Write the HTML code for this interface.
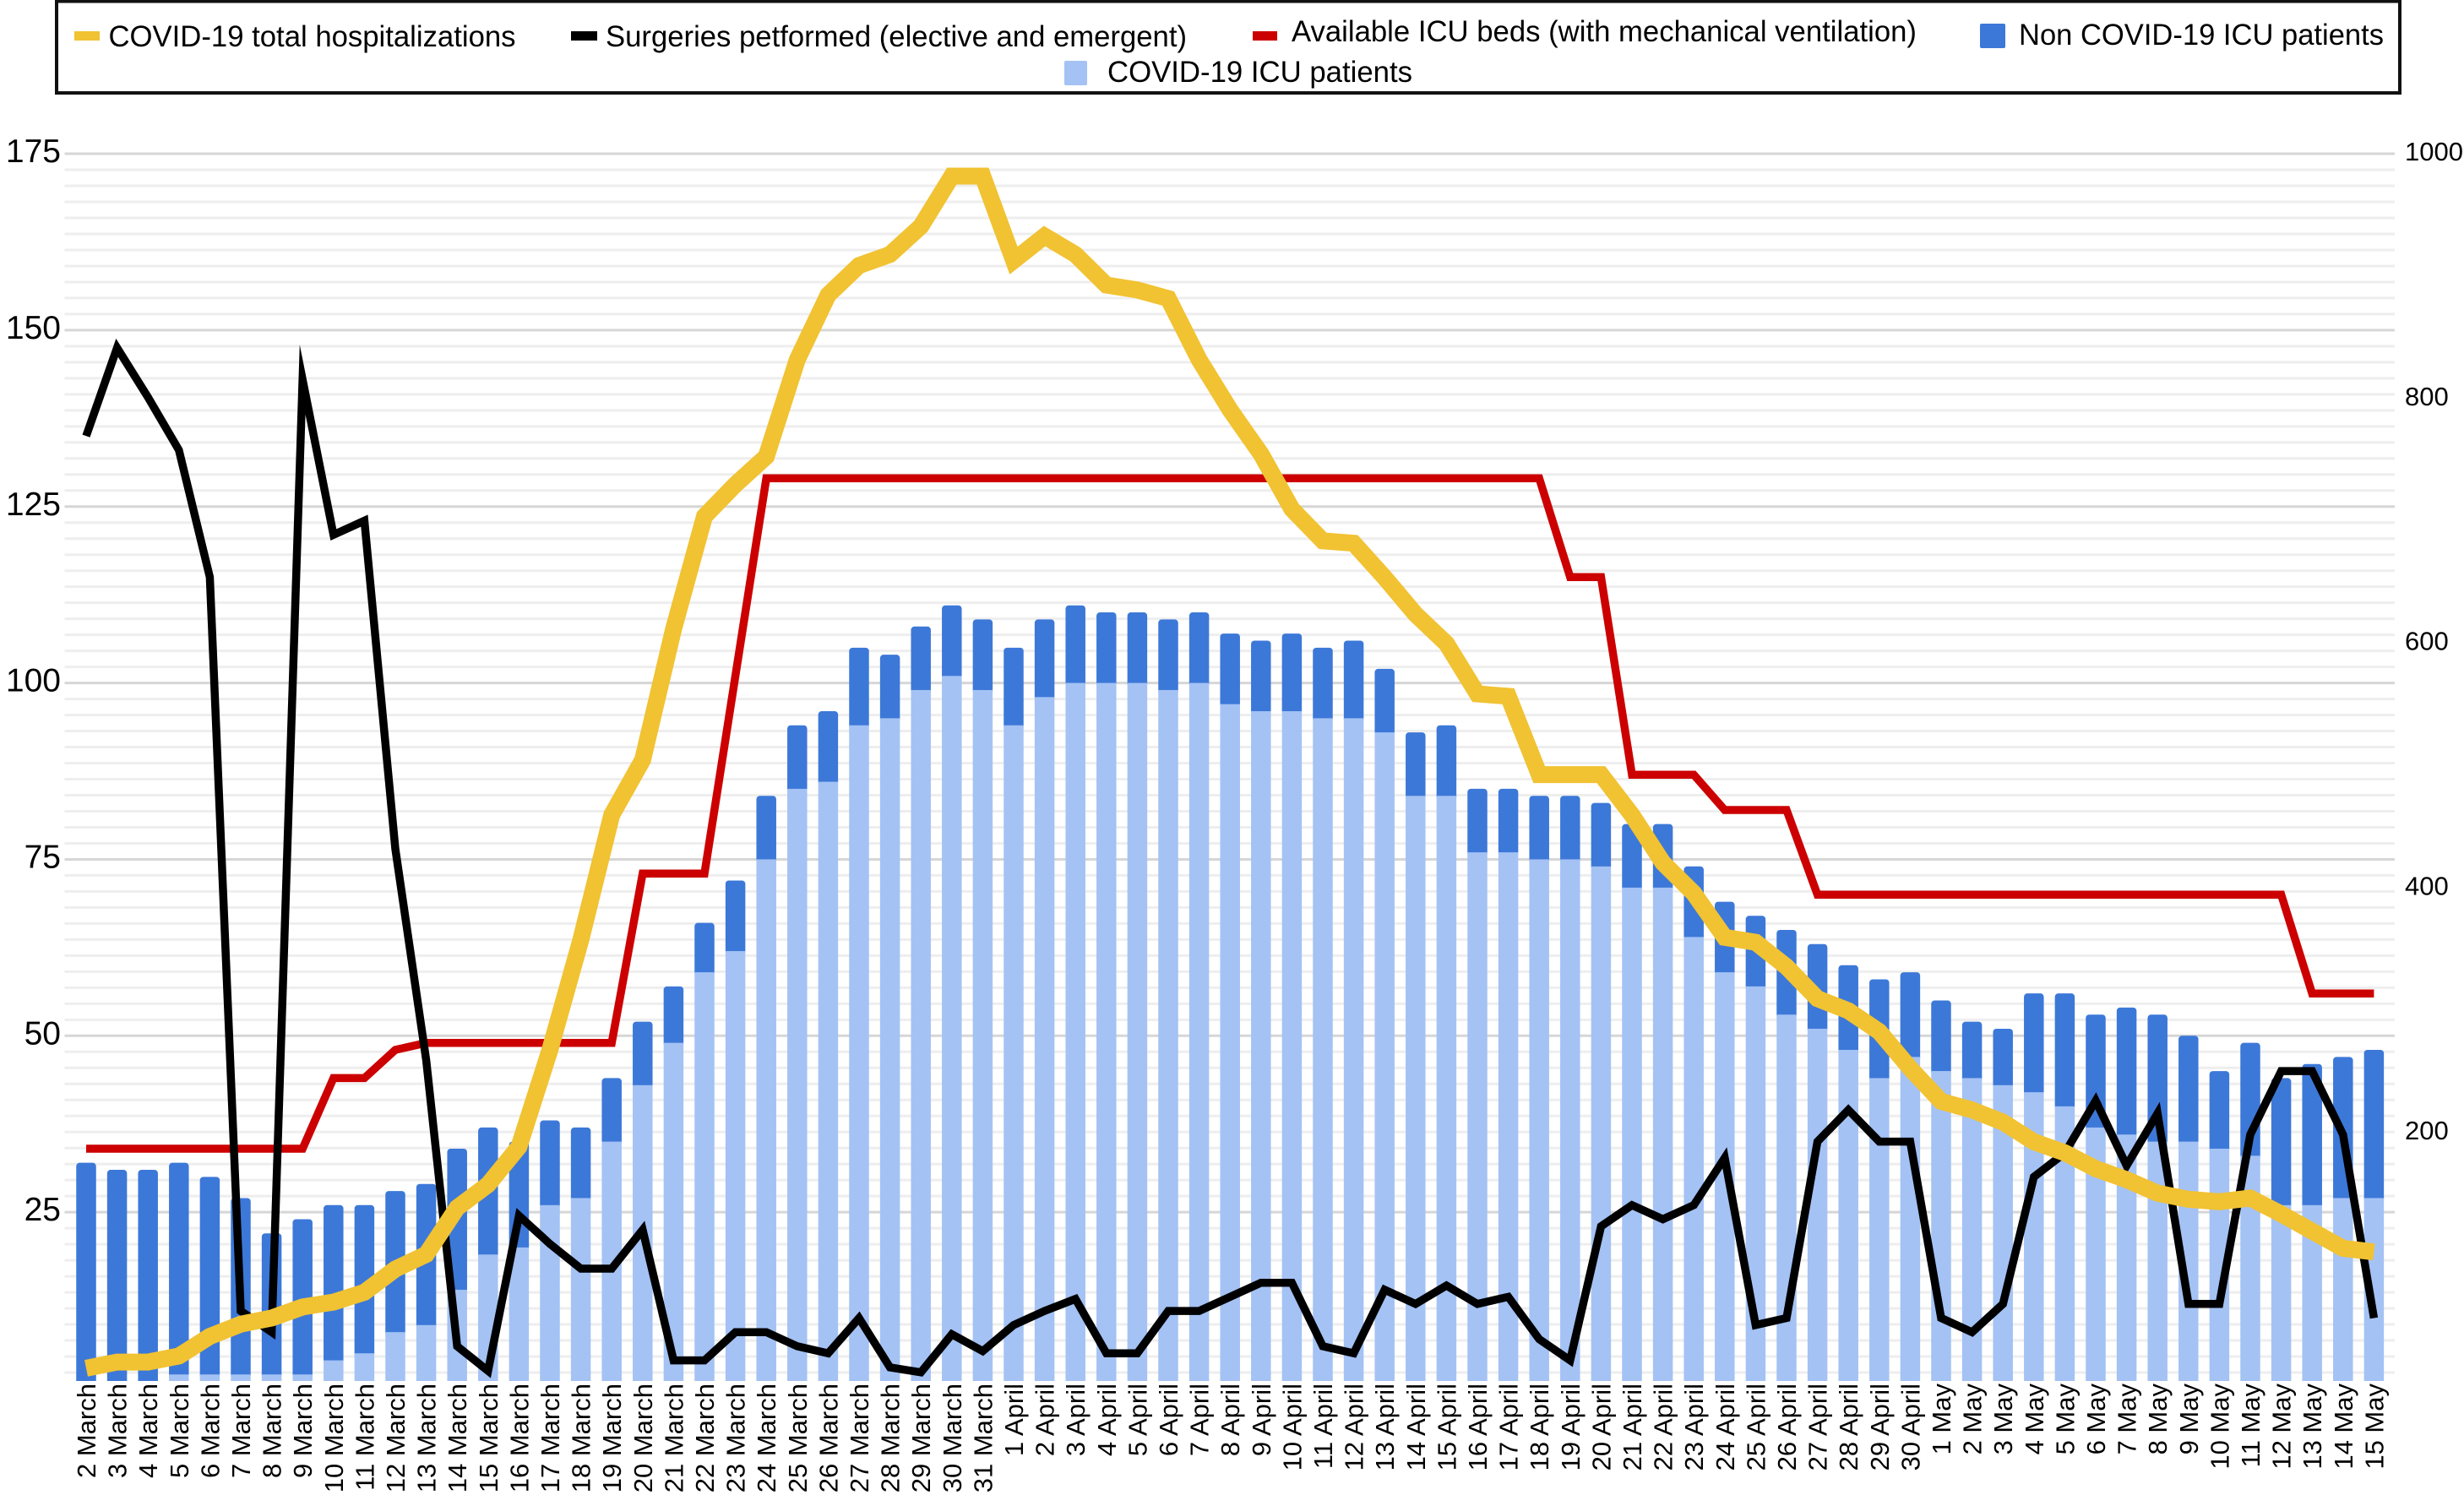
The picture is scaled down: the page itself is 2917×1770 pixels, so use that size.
<!DOCTYPE html>
<html lang="en">
<head>
<meta charset="utf-8">
<title>COVID-19 hospitalizations, ICU patients, ICU beds and surgeries</title>
<style>
  html, body { margin: 0; padding: 0; background: #fff; }
  svg { display: block; font-family: "Liberation Sans", Arial, sans-serif; }
</style>
</head>
<body>
<svg id="chart" xmlns="http://www.w3.org/2000/svg" width="2917" height="1770" viewBox="0 0 2917 1770">
  <rect x="0" y="0" width="2917" height="1770" fill="#ffffff"/>
  <defs>
    <clipPath id="plot-clip"><rect x="60" y="150" width="2800" height="1485"/></clipPath>
  </defs>
  <g id="grid"></g>
  <g id="bars" clip-path="url(#plot-clip)"></g>
  <g id="lines"></g>
  <g id="left-axis"></g>
  <g id="right-axis"></g>
  <g id="x-axis"></g>

  <g>
    <rect x="67" y="1.5" width="2774" height="108.5" fill="#ffffff" stroke="#111111" stroke-width="4"/>
    <g>
      <rect x="88" y="37" width="30" height="11" fill="#f1c232"/>
      <text x="128.5" y="55" font-size="35" fill="#000" textLength="482" lengthAdjust="spacingAndGlyphs">COVID-19 total hospitalizations</text>
    </g>
    <g>
      <rect x="676" y="37" width="31" height="11" fill="#000000"/>
      <text x="717" y="55" font-size="35" fill="#000" textLength="688" lengthAdjust="spacingAndGlyphs">Surgeries petformed (elective and emergent)</text>
    </g>
    <g>
      <rect x="1483" y="37" width="29" height="11" fill="#cc0000"/>
      <text x="1529" y="49" font-size="35" fill="#000" textLength="740" lengthAdjust="spacingAndGlyphs">Available ICU beds (with mechanical ventilation)</text>
    </g>
    <g>
      <rect x="2344" y="28" width="30" height="29" rx="2" fill="#3c78d8"/>
      <text x="2390" y="53" font-size="35" fill="#000" textLength="432" lengthAdjust="spacingAndGlyphs">Non COVID-19 ICU patients</text>
    </g>
    <g>
      <rect x="1260" y="72" width="27" height="29" rx="2" fill="#a4c2f4"/>
      <text x="1311" y="97" font-size="35" fill="#000" textLength="361" lengthAdjust="spacingAndGlyphs">COVID-19 ICU patients</text>
    </g>
  </g>
</svg>

<script>
const categories = [
  "2 March","3 March","4 March","5 March","6 March","7 March","8 March","9 March","10 March","11 March",
  "12 March","13 March","14 March","15 March","16 March","17 March","18 March","19 March","20 March","21 March",
  "22 March","23 March","24 March","25 March","26 March","27 March","28 March","29 March","30 March","31 March",
  "1 April","2 April","3 April","4 April","5 April","6 April","7 April","8 April","9 April","10 April",
  "11 April","12 April","13 April","14 April","15 April","16 April","17 April","18 April","19 April","20 April",
  "21 April","22 April","23 April","24 April","25 April","26 April","27 April","28 April","29 April","30 April",
  "1 May","2 May","3 May","4 May","5 May","6 May","7 May","8 May","9 May","10 May",
  "11 May","12 May","13 May","14 May","15 May"
];
const covidIcuPatients = [
  0,0,0,2,2,2,2,2,4,5,
  8,9,14,19,20,26,27,35,43,49,
  59,62,75,85,86,94,95,99,101,99,
  94,98,100,100,100,99,100,97,96,96,
  95,95,93,84,84,76,76,75,75,74,
  71,71,64,59,57,53,51,48,44,47,
  45,44,43,42,40,37,36,35,35,34,
  33,26,26,27,27
];
const nonCovidIcuPatients = [
  32,31,31,30,28,25,20,22,22,21,
  20,20,20,18,15,12,10,9,9,8,
  7,10,9,9,10,11,9,9,10,10,
  11,11,11,10,10,10,10,10,10,11,
  10,11,9,9,10,9,9,9,9,9,
  9,9,10,10,10,12,12,12,14,12,
  10,8,8,14,16,16,18,18,15,11,
  16,18,20,20,21
];
const availableIcuBeds = [
  34,34,34,34,34,34,34,34,44,44,
  48,49,49,49,49,49,49,49,73,73,
  73,101,129,129,129,129,129,129,129,129,
  129,129,129,129,129,129,129,129,129,129,
  129,129,129,129,129,129,129,129,115,115,
  87,87,87,82,82,82,70,70,70,70,
  70,70,70,70,70,70,70,70,70,70,
  70,70,56,56,56
];
const surgeriesPerformed = [
  135,147.5,140.5,133,115,11,8,143,121,123,
  76.5,46.5,6,2.5,24.5,20.5,17,17,22.5,4,
  4,8,8,6,5,10,3,2.3,7.7,5.3,
  9,11,12.7,5,5,11,11,13,15,15,
  6,5,14,12,14.6,12,13,7,4,23,
  26,24,26,32.7,9,10,35,39.5,35,35,
  10,8,12,30,33.4,40.8,31.6,39,12,12,
  36,45,45,36,10
];
const covidHospitalizations = [
  7,12,12,17,33,43,48,57,61,69,
  88,100,138,157,188,267,357,459,504,611,
  703,729,752,831,884,908,917,940,981,981,
  912,932,917,892,888,881,831,790,754,709,
  683,681,653,623,599,558,556,492,492,492,
  459,420,395,359,355,335,309,299,282,252,
  225,218,208,192,183,170,161,150,145,143,
  146,133,119,105,102
];
const leftTicks = [25,50,75,100,125,150,175];
const rightTicks = [200,400,600,800,1000];
const minorPerMajor = 11;

const SVG_NS = "http://www.w3.org/2000/svg";
function xPos(i) { return 102 + 36.6 * i; }
function yLeft(v) { return 1644 - 8.354 * v; }
function yRight(v) { return 1630 - 1.449 * v; }
function make(tag, attrs, parent) {
  const el = document.createElementNS(SVG_NS, tag);
  for (const k in attrs) el.setAttribute(k, attrs[k]);
  parent.appendChild(el);
  return el;
}

/* Gridlines */
const gridG = document.getElementById("grid");
for (let k = 0; k <= 7 * minorPerMajor; k++) {
  const v = k * 25 / minorPerMajor;
  const y = yLeft(v);
  if (y > 1635) continue;
  const major = k % minorPerMajor === 0;
  const line = make("line", {
    x1: 76.5, x2: 2835, y1: y, y2: y,
    stroke: major ? "#d6d6d6" : "#eeeeee",
    "stroke-width": 3
  }, gridG);
  
  
}

/* Stacked bars */
const barsG = document.getElementById("bars");
const BAR_W = 23.5;
categories.forEach((c, i) => {
  const cx = xPos(i);
  const covidTop = yLeft(covidIcuPatients[i]);
  const totalTop = yLeft(covidIcuPatients[i] + nonCovidIcuPatients[i]);
  const dark = make("rect", {
    x: cx - BAR_W / 2, y: totalTop, width: BAR_W,
    height: covidTop - totalTop + 5, rx: 4, fill: "#3c78d8"
  }, barsG);
  
  
  const light = make("rect", {
    x: cx - BAR_W / 2, y: covidTop, width: BAR_W,
    height: yLeft(0) - covidTop, fill: "#a4c2f4"
  }, barsG);
  
  
});

/* Line series */
const linesG = document.getElementById("lines");
function pointsOf(values, yFn) {
  return values.map((v, i) => xPos(i).toFixed(1) + "," + yFn(v).toFixed(1)).join(" ");
}
const bedsLine = make("polyline", {
  points: pointsOf(availableIcuBeds, yLeft), fill: "none", stroke: "#cc0000",
  "stroke-width": 9.5, "stroke-linejoin": "miter", "stroke-miterlimit": 10
}, linesG);


const surgeriesLine = make("polyline", {
  points: pointsOf(surgeriesPerformed, yLeft), fill: "none", stroke: "#000000",
  "stroke-width": 9.5, "stroke-linejoin": "miter", "stroke-miterlimit": 12
}, linesG);


const hospLine = make("polyline", {
  points: pointsOf(covidHospitalizations, yRight), fill: "none", stroke: "#f1c232",
  "stroke-width": 20, "stroke-linejoin": "miter", "stroke-miterlimit": 6
}, linesG);



/* Left axis tick labels */
const leftG = document.getElementById("left-axis");
leftTicks.forEach(t => {
  const el = make("text", {
    x: 72, y: yLeft(t) + 10, "text-anchor": "end", "font-size": 39, fill: "#000"
  }, leftG);
  el.textContent = String(t);
  
  
});

/* Right axis tick labels */
const rightG = document.getElementById("right-axis");
rightTicks.forEach(t => {
  const el = make("text", {
    x: 2847, y: yRight(t) + 9, "font-size": 31, fill: "#000"
  }, rightG);
  el.textContent = String(t);
  
  
});

/* Category labels */
const xG = document.getElementById("x-axis");
categories.forEach((c, i) => {
  const tx = xPos(i) + 11;
  const el = make("text", {
    transform: "translate(" + tx.toFixed(1) + ",1638) rotate(-90)",
    "text-anchor": "end", "font-size": 31, fill: "#000"
  }, xG);
  el.textContent = c;
  
  
});
</script>
</body>
</html>
